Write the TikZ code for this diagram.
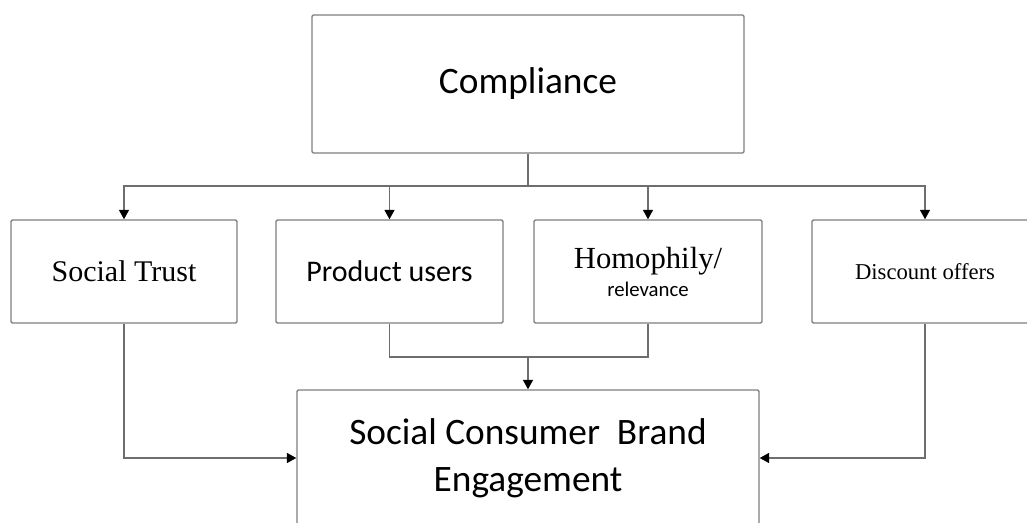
\documentclass[tikz,border=0pt]{standalone}
\usepackage{fontspec}
\setmainfont{Liberation Serif}
\newfontfamily\calib{Carlito}
\usetikzlibrary{arrows.meta}
\definecolor{boxgray}{HTML}{7F7F7F}
\definecolor{linegray}{HTML}{6E6E6E}
\tikzset{
  box/.style={draw=boxgray, line width=1.1pt, rounded corners=1pt, fill=white, inner sep=0pt, align=center, minimum height=77.25pt, minimum width=169.5pt},
  conn/.style={draw=linegray, line width=0.9pt},
  arr/.style={conn, -{Triangle[length=7pt,width=7.5pt,color=black,fill=black]}},
}
\begin{document}
\begin{tikzpicture}[x=0.75pt,y=-0.75pt]
\clip (0,0) rectangle (1027,523);
\fill[white] (0,0) rectangle (1027,523);
\node[box, minimum width=324pt, minimum height=103.5pt, font=\calib\fontsize{28pt}{32pt}\selectfont] (comp) at (528,84) {Compliance};
\node[box, font=\fontsize{22.5pt}{26pt}\selectfont] (st) at (124,271.5) {Social Trust};
\node[box, minimum width=170.25pt, font=\calib\fontsize{22.5pt}{26pt}\selectfont] (pu) at (389.5,271.5) {Product users};
\node[box, minimum width=171pt, font=\fontsize{23pt}{23pt}\selectfont] (ho) at (648,271.5) {Homophily/\\[-2pt]{\calib\fontsize{15.6pt}{18pt}\selectfont relevance}};
\node[box, font=\fontsize{17pt}{20pt}\selectfont] (dis) at (925,271.5) {Discount offers};
\node[box, minimum width=346.5pt, minimum height=120pt] (eng) at (528,470) {};
\node[align=center, inner sep=0pt, font=\calib\fontsize{28pt}{35.25pt}\selectfont] (engt) at (528,458) {Social Consumer\ \ Brand\\Engagement};
\coordinate (bus) at (528,186);
\coordinate (merge) at (528,357);
\coordinate (stc) at (124,458);
\coordinate (disc) at (925,458);
\draw[conn] (comp.south) -- (bus);
\draw[arr] (bus) -| (st.north);
\draw[arr] (bus) -| (pu.north);
\draw[arr] (bus) -| (ho.north);
\draw[arr] (bus) -| (dis.north);
\draw[conn] (pu.south) |- (merge) -| (ho.south);
\draw[arr] (merge) -- (eng.north);
\draw[arr] (st.south) -- (stc) -- (stc -| eng.west);
\draw[arr] (dis.south) -- (disc) -- (disc -| eng.east);
\end{tikzpicture}
\end{document}
